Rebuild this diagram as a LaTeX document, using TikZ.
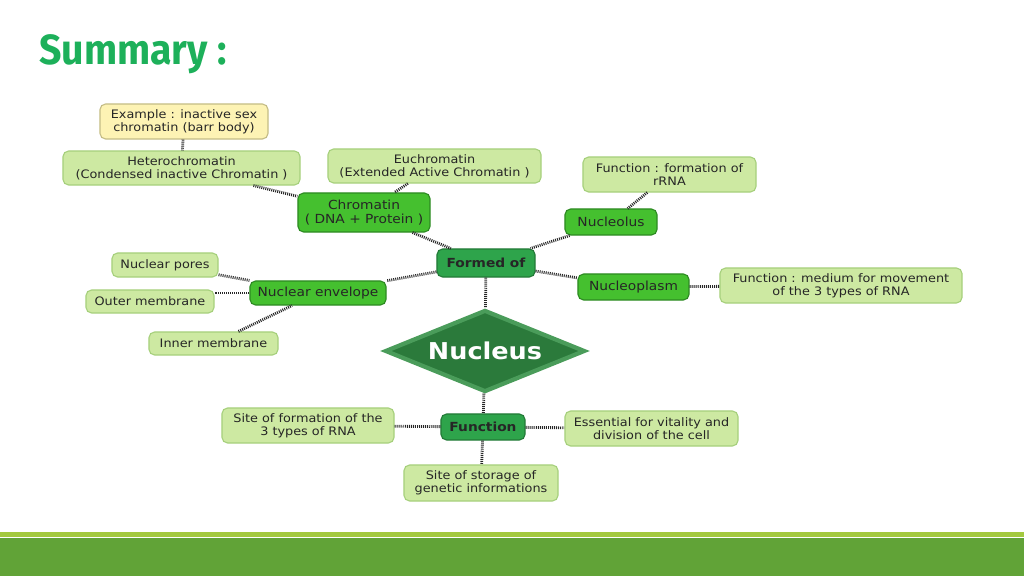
\documentclass[tikz,border=0pt]{standalone}
\usepackage{fontspec}
\setmainfont{DejaVu Sans}[FakeStretch=1.1]
\newfontfamily\titlefont{Fira Sans}[FakeStretch=0.93]
\usetikzlibrary{shapes.geometric}

\definecolor{titlegreen}{HTML}{1DB05A}
\definecolor{leaffill}{HTML}{CDE9A2}
\definecolor{leafline}{HTML}{A6D07C}
\definecolor{notefill}{HTML}{FDF3B4}
\definecolor{noteline}{HTML}{C4BC86}
\definecolor{partfill}{HTML}{45C02F}
\definecolor{partline}{HTML}{2D8A22}
\definecolor{hubfill}{HTML}{2EA44B}
\definecolor{hubline}{HTML}{227A37}
\definecolor{nucfill}{HTML}{2B7A3B}
\definecolor{nucline}{HTML}{4A9C5A}
\definecolor{barlight}{HTML}{A3C93F}
\definecolor{bardark}{HTML}{61A337}

\begin{document}
\begin{tikzpicture}[
    x=0.025cm, y=-0.025cm,
    leaf/.style={rectangle, draw=leafline, fill=leaffill, thick, rounded corners=4pt, inner sep=1pt, align=center, text=black!85, font=\fontsize{8.3}{9.4}\selectfont},
    note/.style={leaf, draw=noteline, fill=notefill},
    part/.style={rectangle, draw=partline, fill=partfill, thick, rounded corners=4pt, inner sep=1pt, align=center, text=black!85, font=\fontsize{8.9}{10}\selectfont},
    hub/.style={part, draw=hubline, fill=hubfill, font=\bfseries\fontsize{8.9}{10}\selectfont},
    link/.style={draw=black!85, line width=2pt, dash pattern=on 0.7pt off 0.75pt}
]
    \useasboundingbox (0,0) rectangle (1024,576);

    % Title
    \node[anchor=west, inner sep=0pt, text=titlegreen, font=\titlefont\bfseries\fontsize{30}{36}\selectfont] (TITLE) at (39,54) {Summary :};

    % Chromatin branch
    \node[note, minimum width=4.2cm, minimum height=0.875cm] (EXAMPLE) at (184,121.5) {Example : inactive sex\\chromatin (barr body)};
    \node[leaf, minimum width=5.925cm, minimum height=0.85cm] (HETERO) at (181.5,168) {Heterochromatin\\(Condensed inactive Chromatin )};
    \node[leaf, minimum width=5.325cm, minimum height=0.85cm] (EUCHRO) at (434.5,166) {Euchromatin\\(Extended Active Chromatin )};
    \node[part, minimum width=3.3cm, minimum height=0.975cm] (CHROM) at (364,212.5) {Chromatin\\( DNA + Protein )};

    % Nucleolus branch
    \node[leaf, minimum width=4.325cm, minimum height=0.875cm] (RRNA) at (669.5,174.5) {Function : formation of\\rRNA};
    \node[part, minimum width=2.3cm, minimum height=0.65cm] (NUCLEOLUS) at (611,222) {Nucleolus};

    % Formed of hub
    \node[hub, minimum width=2.45cm, minimum height=0.7cm] (FORMED) at (486,263) {Formed of};

    % Nuclear envelope branch
    \node[leaf, minimum width=2.65cm, minimum height=0.6cm] (PORES) at (165,265) {Nuclear pores};
    \node[leaf, minimum width=3.2cm, minimum height=0.575cm] (OUTER) at (150,301.5) {Outer membrane};
    \node[part, minimum width=3.4cm, minimum height=0.6cm] (ENVELOPE) at (318,293) {Nuclear envelope};
    \node[leaf, minimum width=3.225cm, minimum height=0.575cm] (INNER) at (213.5,343.5) {Inner membrane};

    % Nucleoplasm branch
    \node[part, minimum width=2.775cm, minimum height=0.65cm] (NPLASM) at (633.5,287) {Nucleoplasm};
    \node[leaf, minimum width=6.05cm, minimum height=0.875cm] (MEDIUM) at (841,285.5) {Function : medium for movement\\of the 3 types of RNA};

    % Central nucleus
    \node[diamond, aspect=2.4, minimum width=5.0cm, minimum height=2.05cm, inner sep=0pt, fill=nucfill, draw=nucline, line width=3pt, text=white, font=\bfseries\fontsize{16.5}{20}\selectfont] (NUCLEUS) at (485,351) {Nucleus};

    % Function branch
    \node[hub, minimum width=2.1cm, minimum height=0.65cm] (FUNC) at (483,427) {Function};
    \node[leaf, minimum width=4.3cm, minimum height=0.875cm] (SITEFORM) at (308,425.5) {Site of formation of the\\3 types of RNA};
    \node[leaf, minimum width=4.325cm, minimum height=0.875cm] (ESSENTIAL) at (651.5,428.5) {Essential for vitality and\\division of the cell};
    \node[leaf, minimum width=3.85cm, minimum height=0.9cm] (STORAGE) at (481,483) {Site of storage of\\genetic informations};

    % Connectors
    \draw[link] (EXAMPLE) -- (HETERO);
    \draw[link] (HETERO) -- (CHROM);
    \draw[link] (EUCHRO) -- (CHROM);
    \draw[link] (CHROM) -- (FORMED);
    \draw[link] (RRNA) -- (NUCLEOLUS);
    \draw[link] (NUCLEOLUS) -- (FORMED);
    \draw[link] (FORMED) -- (NPLASM);
    \draw[link] (NPLASM) -- (MEDIUM);
    \draw[link] (FORMED) -- (ENVELOPE);
    \draw[link] (PORES) -- (ENVELOPE);
    \draw[link] (ENVELOPE.west) -- (ENVELOPE.west -| OUTER.east);
    \draw[link] (INNER) -- (ENVELOPE);
    \draw[link] (FORMED) -- (NUCLEUS);
    \draw[link] (NUCLEUS) -- (FUNC);
    \draw[link] (FUNC) -- (SITEFORM);
    \draw[link] (FUNC) -- (ESSENTIAL);
    \draw[link] (FUNC) -- (STORAGE);

    % Footer band
    \fill[barlight] (0,532) rectangle (1024,537);
    \fill[bardark] (0,538) rectangle (1024,576);
\end{tikzpicture}
\end{document}
